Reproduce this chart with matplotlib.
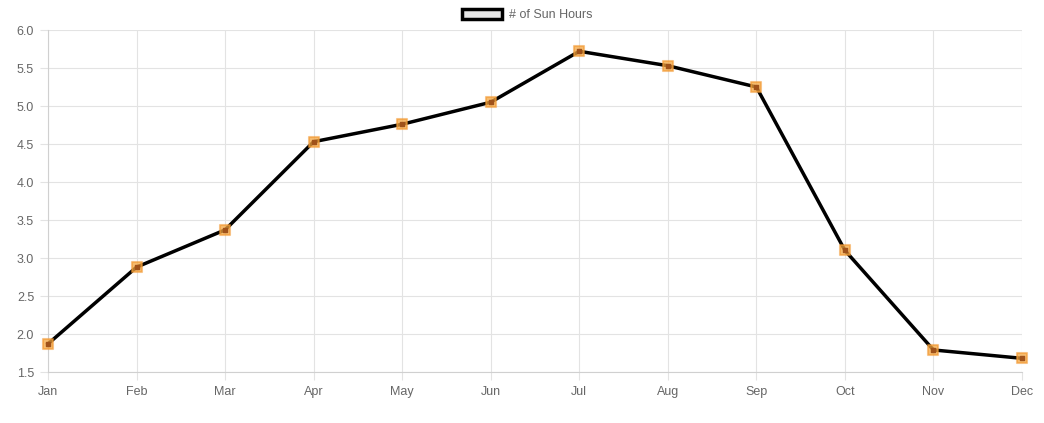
import matplotlib
matplotlib.use("Agg")
import matplotlib.pyplot as plt
from matplotlib.patches import Patch

months = ["Jan", "Feb", "Mar", "Apr", "May", "Jun", "Jul", "Aug", "Sep", "Oct", "Nov", "Dec"]
sun_hours = [1.87, 2.88, 3.37, 4.53, 4.76, 5.05, 5.72, 5.53, 5.25, 3.10, 1.79, 1.68]
y_ticks = [1.5, 2.0, 2.5, 3.0, 3.5, 4.0, 4.5, 5.0, 5.5, 6.0]

plt.rcParams["font.family"] = ["Liberation Sans", "DejaVu Sans"]

fig = plt.figure(figsize=(10.44, 4.23), dpi=100)
ax = fig.add_axes([48 / 1044, 51 / 423, 974 / 1044, 342 / 423])

x = list(range(len(months)))
ax.plot(x, sun_hours, color="black", linewidth=2.5, zorder=3, clip_on=False)
ax.scatter(x, sun_hours, marker="s", s=60, facecolor=(0.96, 0.65, 0.25, 0.75),
           edgecolor=(0.95, 0.6, 0.2, 0.6), linewidth=1.5, zorder=4, clip_on=False)
ax.scatter(x, sun_hours, marker="s", s=6, color="#a0521a", zorder=5, clip_on=False)

ax.set_xlim(0, len(months) - 1)
ax.set_ylim(1.5, 6.0)
ax.set_xticks(x)
ax.set_xticklabels(months)
ax.set_yticks(y_ticks)
ax.set_yticklabels([f"{v:.1f}" for v in y_ticks])
ax.grid(True, color="#e3e3e3", linewidth=0.8)
ax.set_axisbelow(True)
for side in ["top", "right"]:
    ax.spines[side].set_visible(False)
for side in ["left", "bottom"]:
    ax.spines[side].set_color("#d0d0d0")
ax.tick_params(colors="#e3e3e3", labelcolor="#666666", labelsize=9, length=6, pad=4)

handle = Patch(facecolor="#e6e6e6", edgecolor="black", linewidth=2.5)
fig.legend([handle], ["# of Sun Hours"], loc="upper center", bbox_to_anchor=(0.505, 1.0),
           frameon=False, fontsize=9, labelcolor="#666666", handlelength=3.2, handleheight=0.9,
           handletextpad=0.5, borderaxespad=0.3)

fig.savefig("out.png", dpi=100)
